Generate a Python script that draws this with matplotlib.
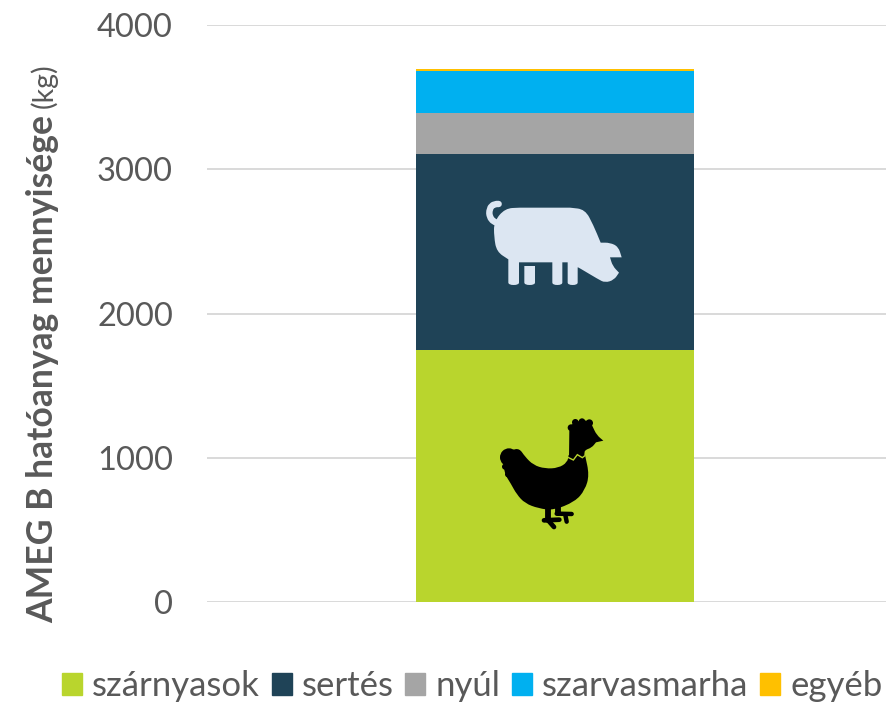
import matplotlib
matplotlib.use("Agg")
import matplotlib.pyplot as plt
from matplotlib.patches import PathPatch, Patch
from matplotlib.path import Path
from matplotlib.transforms import Affine2D

plt.rcParams['font.family'] = ['Lato', 'DejaVu Sans']

groups = ['szárnyasok', 'sertés', 'nyúl', 'szarvasmarha', 'egyéb']
values = [1747, 1359, 284, 291, 14]
colors = ['#B9D52D', '#1F4357', '#A5A5A5', '#00B0F0', '#FFC000']
y_ticks = [0, 1000, 2000, 3000, 4000]

W, H = 886, 704
text_col = '#595959'

fig = plt.figure(figsize=(W / 100, H / 100), dpi=100)
# axes runs a bit past the right edge, the bar is not centred in the visible part
ax = fig.add_axes([207 / W, 1 - 602 / H, 696 / W, 577 / H])

bottom = 0
for g, v, c in zip(groups, values, colors):
    ax.bar(0, v, width=0.4, bottom=bottom, color=c, label=g, zorder=3)
    bottom += v

ax.set_xlim(-0.5, 0.5)
ax.set_ylim(0, 4000)
ax.set_xticks([])
ax.set_yticks(y_ticks)
ax.tick_params(axis='y', length=0, pad=24.5, labelsize=23.5, labelcolor=text_col)
ax.grid(axis='y', color='#D9D9D9', lw=1.4, zorder=0)
ax.set_axisbelow(True)
for s in ax.spines.values():
    s.set_visible(False)

# y label: bold part and normal part
fig.text(43 / W, 1 - 623 / H, 'AMEG B hatóanyag mennyisége', rotation=90, ha='center', va='bottom',
         fontsize=25.6, fontweight='bold', color=text_col)
fig.text(44 / W, 1 - 108 / H, '(kg)', rotation=90, ha='center', va='bottom',
         fontsize=20.5, color=text_col)

handles = [Patch(color=c, label=g) for g, c in zip(groups, colors)]
fig.legend(handles=handles, loc='center left', bbox_to_anchor=(62 / W, 1 - 686 / H), ncol=5, frameon=False,
           fontsize=25, labelcolor=text_col, borderpad=0, borderaxespad=0,
           handlelength=0.58, handleheight=0.58, handletextpad=0.29, columnspacing=0.33)


def icon_tr(x0, y0):
    # icon points are in 3x zoomed pixels from the top left of the icon box
    return Affine2D().scale(1 / 3, -1 / 3).translate(x0, H - y0)


def smooth(points):
    # closed blob through the midpoints, a doubled point gives a sharp corner
    mid = lambda a, b: ((a[0] + b[0]) / 2, (a[1] + b[1]) / 2)
    verts = [mid(points[-1], points[0])]
    codes = [Path.MOVETO]
    for i, p in enumerate(points):
        verts += [p, mid(p, points[(i + 1) % len(points)])]
        codes += [Path.CURVE3, Path.CURVE3]
    verts.append(verts[0])
    codes.append(Path.CLOSEPOLY)
    return Path(verts, codes)


def blob(points, x0, y0, color):
    fig.add_artist(PathPatch(smooth(points), transform=icon_tr(x0, y0), fc=color, ec='none', zorder=5))


def dot(cx, cy, r, x0, y0, color):
    fig.add_artist(PathPatch(Path.circle((cx, cy), r), transform=icon_tr(x0, y0), fc=color, ec='none', zorder=5))


def stroke(points, x0, y0, color, lw):
    codes = [Path.MOVETO] + [Path.LINETO] * (len(points) - 1)
    if len(points) == 5:
        codes = [Path.MOVETO, Path.CURVE3, Path.CURVE3, Path.CURVE3, Path.CURVE3]
    fig.add_artist(PathPatch(Path(points, codes), transform=icon_tr(x0, y0), fc='none', ec=color, lw=lw,
                             capstyle='round', joinstyle='round', zorder=6))


# pig
pig_col = '#DCE6F2'
pig_body = [(105, 85), (150, 83), (150, 83), (300, 83), (300, 83), (345, 88), (370, 135), (392, 188), (392, 188),
            (420, 188), (445, 200), (455, 232), (455, 232), (420, 232), (420, 232), (428, 258), (447, 278), (447, 278),
            (432, 300), (405, 308), (385, 298), (325, 262), (323, 262), (323, 262), (323, 300), (323, 315),
            (293, 315), (293, 300), (293, 247), (293, 247), (277, 247), (277, 247), (277, 300), (277, 315),
            (247, 315), (247, 300), (247, 247), (247, 247), (147, 247), (147, 247), (147, 300), (147, 315),
            (115, 315), (115, 300), (115, 238), (115, 238), (80, 215), (72, 170), (72, 125)]
blob(pig_body, 470, 180, pig_col)
blob([(163, 258), (163, 258), (195, 258), (195, 258), (195, 300), (195, 315), (163, 315), (163, 300)], 470, 180, pig_col)
stroke([(86, 72), (58, 70), (58, 100), (60, 122), (80, 128)], 470, 180, pig_col, 4.6)

# chicken
body = [(285, 150), (285, 150), (298, 210), (285, 255), (255, 290), (190, 316), (145, 310), (105, 295), (80, 268), (62, 235),
        (46, 210), (40, 180), (45, 150), (65, 135), (88, 130), (105, 155), (130, 180), (165, 191), (205, 189),
        (232, 172), (236, 150), (236, 150)]
blob(body, 490, 405, 'black')
head = [(238, 78), (238, 78), (240, 60), (270, 45), (300, 48), (308, 65), (320, 90),
        (340, 107), (340, 107), (318, 112), (318, 112), (305, 128), (285, 135), (283, 145), (283, 160), (283, 160),
        (237, 160), (237, 160)]
blob(head, 490, 405, 'black')
# comb and tail bumps
for cx, cy, r in [(243, 68, 10), (256, 52, 10), (276, 50, 10), (298, 54, 11)]:
    dot(cx, cy, r, 490, 405, 'black')
for cx, cy, r in [(57, 157, 27), (45, 185, 9), (54, 208, 9)]:
    dot(cx, cy, r, 490, 405, 'black')
# thin zigzag between neck and body
fig.add_artist(PathPatch(Path([(234, 157), (250, 165), (262, 149), (277, 158), (286, 151)]), transform=icon_tr(490, 405),
                         fc='none', ec=colors[0], lw=1, zorder=7))
for seg, lw in [([(174, 308), (174, 345)], 4.2), ([(162, 346), (208, 344)], 3.4), ([(178, 350), (192, 366)], 3.4),
                ([(205, 305), (205, 325)], 4.2), ([(200, 326), (245, 327)], 3.2), ([(226, 330), (230, 350)], 3.2)]:
    stroke(seg, 490, 405, 'black', lw)

fig.savefig('out.png', dpi=100)
